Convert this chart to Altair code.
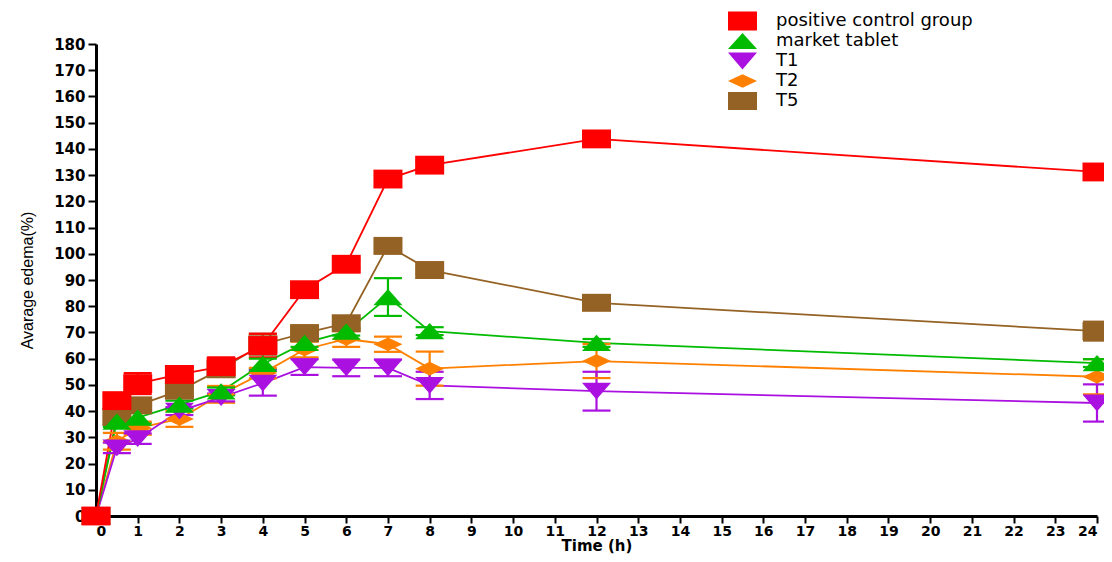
import altair as alt
import pandas as pd

groups = ["positive control group", "market tablet", "T1", "T2", "T5"]
colors = ["#ff0000", "#00bb00", "#aa10e0", "#ff8000", "#946224"]
shapes = [
    "M-1,-0.65L1,-0.65L1,0.65L-1,0.65Z",
    "M0,-0.56L1,0.56L-1,0.56Z",
    "M-1,-0.58L1,-0.58L0,0.58Z",
    "M0,-0.47L1,0L0,0.47L-1,0Z",
    "M-1,-0.62L1,-0.62L1,0.62L-1,0.62Z",
]

times = [0, 0.5, 1, 2, 3, 4, 5, 6, 7, 8, 12, 24]
x_ticks = list(range(0, 25))
y_ticks = list(range(0, 181, 10))

pos_mean = [0, 44, 50.5, 54, 57, 65, 86.3, 96, 128.5, 133.8, 143.8, 131.2]
pos_err = [0, 2, 4, 2.5, 3.5, 4.5, 1.5, 1.5, 1.5, 1.5, 1.5, 1.5]

mkt_mean = [0, 36, 37.5, 42.5, 47.5, 58, 66, 70.3, 83.5, 70.5, 66, 58.3]
mkt_err = [0, 2, 2, 1.5, 1.5, 2, 1.5, 1.5, 7.2, 1.5, 1.5, 1.5]

t1_mean = [0, 26, 29.5, 40, 45.2, 50.7, 56.8, 56.5, 56.5, 49.8, 47.6, 43.1]
t1_err = [0, 2, 2, 1.5, 1.5, 4.8, 3, 3.2, 3.2, 5.2, 7.4, 7.1]

t2_mean = [0, 28.5, 33.5, 37, 46.4, 54.5, 63.5, 67.5, 65.5, 56.2, 59.1, 53.1]
t2_err = [0, 3.2, 2.5, 3, 3.2, 2, 3, 3, 2.9, 6.5, 6.5, 6.7]

t5_mean = [0, 37.8, 42.2, 47.8, 56, 65.5, 69.7, 73.5, 103, 93.8, 81.3, 70.5]
t5_err = [0, 3, 2, 2, 3, 4, 3, 2, 1, 1, 1, 3.6]

series = {
    "positive control group": (pos_mean, pos_err),
    "market tablet": (mkt_mean, mkt_err),
    "T1": (t1_mean, t1_err),
    "T2": (t2_mean, t2_err),
    "T5": (t5_mean, t5_err),
}

draw_order = ["T5", "T2", "T1", "market tablet", "positive control group"]
rows = []
for g in draw_order:
    m, e = series[g]
    for t, v, s in zip(times, m, e):
        rows.append({"group": g, "time": t, "mean": v, "lo": v - s, "hi": v + s})
df = pd.DataFrame(rows)

xaxis = alt.Axis(
    values=x_ticks,
    title="Time (h)",
    titleFont="DejaVu Sans",
    titleFontWeight="bold",
    titleFontSize=15,
    titlePadding=0,
    labelPadding=1,
    labelOverlap=False,
    labelFontSize=14,
    tickSize=7,
)
yaxis = alt.Axis(
    values=y_ticks,
    title="Avarage edema(%)",
    titleFont="Liberation Sans",
    titleFontWeight="normal",
    titleFontSize=16,
    titlePadding=18,
    labelPadding=3,
    labelOverlap=False,
    labelFontSize=15,
    tickSize=8,
)
xscale = alt.Scale(domain=[0, 24], nice=False)
yscale = alt.Scale(domain=[0, 180], nice=False)


def X(field):
    return alt.X(field, type="quantitative", scale=xscale, axis=xaxis)


def Y(field):
    return alt.Y(field, type="quantitative", scale=yscale, axis=yaxis)


# colour scale for the symbols (carries the legend)
cscale = alt.Scale(domain=groups, range=colors)
sscale = alt.Scale(domain=groups, range=shapes)
# same colours for lines/error bars, domain listed in drawing order so the
# legend of these channels stays separate (and hidden)
rscale = alt.Scale(domain=draw_order, range=[colors[groups.index(g)] for g in draw_order])
stroke_enc = alt.Stroke("group:N", scale=rscale, legend=None)
fill_enc = alt.Fill("group:N", scale=rscale, legend=None)

legend = alt.Legend(
    title=None,
    orient="none",
    legendX=632,
    legendY=-33,
    symbolSize=841,
    symbolStrokeWidth=0,
    symbolOpacity=1,
    labelFont="DejaVu Sans",
    labelFontSize=18,
    labelColor="black",
    labelOffset=19,
    labelLimit=400,
    clipHeight=20,
    rowPadding=0,
    padding=0,
)

base = alt.Chart(df)

lines = base.mark_line(strokeWidth=1.8, clip=False).encode(
    x=X("time"), y=Y("mean"), stroke=stroke_enc
)
rules = base.mark_rule(strokeWidth=2.2, clip=False).encode(
    x=X("time"), y=Y("lo"), y2="hi:Q", stroke=stroke_enc
)
cap_lo = base.mark_tick(orient="horizontal", size=28, thickness=2.2, opacity=1, clip=False).encode(
    x=X("time"), y=Y("lo"), fill=fill_enc
)
cap_hi = base.mark_tick(orient="horizontal", size=28, thickness=2.2, opacity=1, clip=False).encode(
    x=X("time"), y=Y("hi"), fill=fill_enc
)
points = base.mark_point(filled=True, size=841, opacity=1, strokeWidth=0, clip=False).encode(
    x=X("time"),
    y=Y("mean"),
    color=alt.Color("group:N", scale=cscale, legend=legend),
    shape=alt.Shape("group:N", scale=sscale, legend=legend),
)

chart = (
    alt.layer(lines, rules, cap_lo, cap_hi, points)
    .properties(
        width=1001,
        height=472,
        padding={"left": 88, "top": 36, "right": 7, "bottom": 38},
        autosize=alt.AutoSizeParams(type="none"),
        background="white",
    )
    .configure_view(stroke=None)
    .configure_axis(
        grid=False,
        domainColor="black",
        domainWidth=3,
        tickColor="black",
        tickWidth=2,
        labelFont="DejaVu Sans",
        labelFontWeight="bold",
        labelColor="black",
        titleColor="black",
    )
)

chart.save("out.html", embed_options={"renderer": "svg", "actions": False})
